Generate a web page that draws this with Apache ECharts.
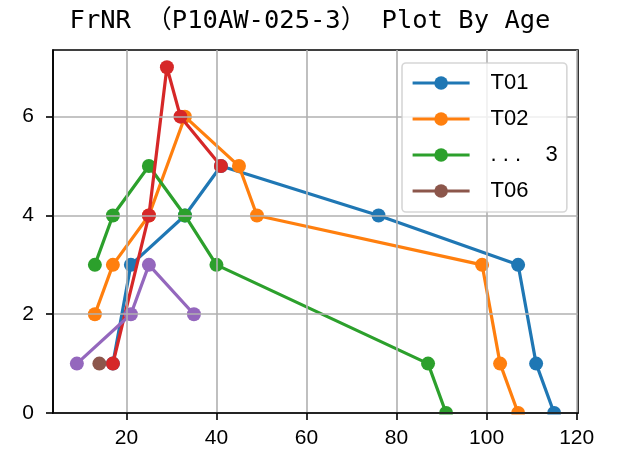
<!DOCTYPE html>
<html>
<head>
<meta charset="utf-8">
<script src="https://cdn.jsdelivr.net/npm/echarts@6/dist/echarts.min.js"></script>
<style>
html,body{margin:0;padding:0;background:#fff;}
#chart{width:620px;height:456px;}
</style>
</head>
<body>
<div id="chart"></div>
<script>
// ---- data (age vs FrNR) ----
const titleText = 'FrNR （P10AW-025-3） Plot By Age';
const seriesNames = ['T01', 'T02', 'T03', 'T04', 'T05', 'T06'];
const legendNames = ['T01', 'T02', 'T03', 'T06'];
const legendLabels = { T01: 'T01', T02: 'T02', T03: '. . .    3', T06: 'T06' };
const T01 = [[17, 1], [21, 3], [33, 4], [41, 5], [76, 4], [107, 3], [111, 1], [115, 0]];
const T02 = [[13, 2], [17, 3], [25, 4], [33, 6], [45, 5], [49, 4], [99, 3], [103, 1], [107, 0]];
const T03 = [[13, 3], [17, 4], [25, 5], [33, 4], [40, 3], [87, 1], [91, 0]];
const T04 = [[17, 1], [25, 4], [29, 7], [32, 6], [41, 5]];
const T05 = [[9, 1], [21, 2], [25, 3], [35, 2]];
const T06 = [[14, 1]];
const seriesData = [T01, T02, T03, T04, T05, T06];
const colors = ['#1f77b4', '#ff7f0e', '#2ca02c', '#d62728', '#9467bd', '#8c564b'];
const xTicks = [20, 40, 60, 80, 100, 120];
const yTicks = [0, 2, 4, 6];
const xRange = [3.7, 120.3];
const yRange = [0, 7.35];

const chart = echarts.init(document.getElementById('chart'), null, { renderer: 'canvas' });
const tickFont = { fontFamily: 'Liberation Sans, Arial, sans-serif', fontSize: 21, color: '#000' };

const option = {
  animation: false,
  backgroundColor: '#fff',
  title: {
    text: titleText,
    left: 'center',
    top: 9,
    padding: 0,
    textStyle: { fontFamily: 'DejaVu Sans Mono, Noto Sans CJK SC, monospace', fontSize: 25.5, fontWeight: 'normal', color: '#000' }
  },
  grid: {
    left: 53, right: 42, top: 50, bottom: 43,
    show: true, borderColor: '#000', borderWidth: 1.6, backgroundColor: 'transparent'
  },
  legend: {
    orient: 'vertical',
    left: 402, top: 63,
    padding: [9, 9, 10, 9],
    itemWidth: 57, itemHeight: 17, itemGap: 14,
    backgroundColor: 'rgba(255,255,255,0.8)',
    borderColor: 'rgba(204,204,204,0.8)', borderWidth: 1.6, borderRadius: 4,
    lineStyle: { width: 3.2 },
    data: legendNames,
    formatter: n => legendLabels[n],
    textStyle: { fontFamily: 'Liberation Sans, Arial, sans-serif', fontSize: 22, color: '#000', padding: [0, 0, 0, 16] },
    z: 20
  },
  xAxis: {
    type: 'value', min: xRange[0], max: xRange[1], z: 10,
    axisLine: { show: true, onZero: false, lineStyle: { color: '#000', width: 1.6 } },
    axisTick: { show: true, customValues: xTicks, length: 7, lineStyle: { color: '#000', width: 1.6 } },
    axisLabel: Object.assign({ customValues: xTicks, margin: 15 }, tickFont),
    splitLine: { show: true, lineStyle: { color: '#b0b0b0', width: 1.6 } }
  },
  yAxis: {
    type: 'value', min: yRange[0], max: yRange[1], z: 10,
    axisLine: { show: true, onZero: false, lineStyle: { color: '#000', width: 1.6 } },
    axisTick: { show: true, customValues: yTicks, length: 7, lineStyle: { color: '#000', width: 1.6 } },
    axisLabel: Object.assign({ customValues: yTicks, margin: 19 }, tickFont),
    splitLine: { show: true, lineStyle: { color: '#b0b0b0', width: 1.6 } }
  },
  graphic: [{
    type: 'rect', z: 5, silent: true,
    shape: { x: 54, y: 414.5, width: 523, height: 9 },
    style: { fill: '#fff' }
  }],
  series: seriesNames.map((n, i) => ({
    name: n,
    type: 'line',
    data: seriesData[i],
    color: colors[i],
    symbol: 'circle',
    symbolSize: 14,
    showAllSymbol: true,
    clip: false,
    lineStyle: { width: 3.2, color: colors[i] },
    itemStyle: { color: colors[i] },
    emphasis: { disabled: true },
    z: 2 + i * 0.01
  }))
};
chart.setOption(option);
</script>
</body>
</html>
